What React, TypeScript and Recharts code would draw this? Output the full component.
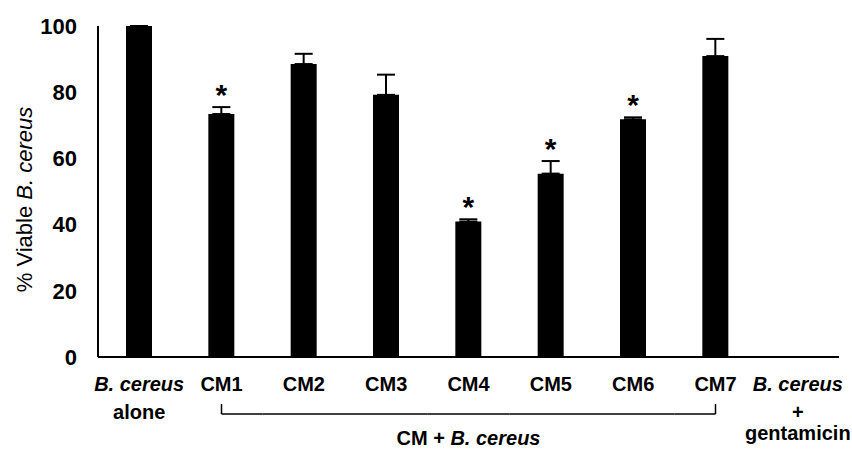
import { BarChart, Bar, XAxis, YAxis, ErrorBar, LabelList } from 'recharts'

// chart values
const categories = [
  'B. cereus alone',
  'CM1',
  'CM2',
  'CM3',
  'CM4',
  'CM5',
  'CM6',
  'CM7',
  'B. cereus + gentamicin',
]
const viability = [100, 73.4, 88.5, 79.2, 40.9, 55.4, 71.8, 90.9, 0]
const errorUp = [0, 2.1, 3.1, 6.1, 0.7, 3.8, 0.6, 5.2, 0]
const significant = [false, true, false, false, true, true, true, false, false]
const yTicks = [0, 20, 40, 60, 80, 100]

// tick label lines: [text, italic]
const tickLines: [string, boolean][][] = [
  [['B. cereus', true], ['alone', false]],
  [['CM1', false]],
  [['CM2', false]],
  [['CM3', false]],
  [['CM4', false]],
  [['CM5', false]],
  [['CM6', false]],
  [['CM7', false]],
  [['B. cereus', true], ['+', false], ['gentamicin', false]],
]
const groupLabel = 'CM + '
const groupLabelItalic = 'B. cereus'
const groupStart = 1
const groupEnd = 7
const groupCenter = 4

const data = categories.map((name, i) => ({
  name,
  value: viability[i],
  err: [0, errorUp[i]],
  errTop: errorUp[i],
  sig: significant[i],
}))

const FONT = '"Liberation Sans", Arial, sans-serif'
const LINE_Y = [26, 54, 75]

function XTick(props: any) {
  const { x, y, payload, index } = props
  const half = payload?.offset ?? 41.2
  const i = index ?? categories.indexOf(payload.value)
  const lines = tickLines[i] || [[String(payload.value), false]]
  return (
    <g>
      {lines.map(([t, it], k) => (
        <text
          key={k}
          x={x}
          y={y + LINE_Y[k]}
          textAnchor="middle"
          fontFamily={FONT}
          fontSize={20}
          fontWeight="bold"
          fontStyle={it ? 'italic' : 'normal'}
          fill="#000"
        >
          {t}
        </text>
      ))}
      {i >= groupStart && i <= groupEnd && (
        <line
          x1={i === groupStart ? x : x - half}
          x2={i === groupEnd ? x : x + half}
          y1={y + 49}
          y2={y + 49}
          stroke="#000"
          strokeWidth={1.5}
        />
      )}
      {(i === groupStart || i === groupEnd) && (
        <line x1={x} x2={x} y1={y + 39} y2={y + 49} stroke="#000" strokeWidth={1.5} />
      )}
      {i === groupCenter && (
        <text
          x={x}
          y={y + 80}
          textAnchor="middle"
          fontFamily={FONT}
          fontSize={20}
          fontWeight="bold"
          fill="#000"
        >
          {groupLabel}
          <tspan fontStyle="italic">{groupLabelItalic}</tspan>
        </text>
      )}
    </g>
  )
}

function Star(props: any) {
  const { x, y, width, height, value, index } = props
  const d = data[index]
  if (!d || !d.sig) return null
  const perUnit = value ? height / value : 0
  const top = y - d.errTop * perUnit
  return (
    <text
      x={x + width / 2}
      y={top - 2}
      textAnchor="middle"
      fontFamily={FONT}
      fontSize={30}
      fontWeight="bold"
      fill="#000"
    >
      *
    </text>
  )
}

function YLabel(props: any) {
  const vb = props.viewBox || { x: 38, y: 26, width: 60, height: 331 }
  const cx = 24
  const cy = vb.y + vb.height / 2 + 8
  return (
    <text
      x={cx}
      y={cy}
      transform={`rotate(-90, ${cx}, ${cy})`}
      textAnchor="middle"
      dominantBaseline="central"
      fontFamily={FONT}
      fontSize={22}
      fill="#000"
    >
      % Viable <tspan fontStyle="italic">B. cereus</tspan>
    </text>
  )
}

export default function App() {
  return (
    <div style={{ position: 'absolute', left: 0, top: 0, background: '#fff' }}>
      <BarChart
        width={852}
        height={450}
        data={data}
        margin={{ top: 26, right: 13, bottom: 13, left: 38 }}
      >
        <XAxis
          dataKey="name"
          height={80}
          interval={0}
          tickLine={false}
          axisLine={{ stroke: '#000', strokeWidth: 2 }}
          tick={<XTick />}
        />
        <YAxis
          width={60}
          domain={[0, 100]}
          ticks={yTicks}
          tickLine={false}
          tickSize={6}
          tickMargin={15}
          axisLine={{ stroke: '#000', strokeWidth: 2 }}
          tick={{ fill: '#000', fontFamily: FONT, fontSize: 22, fontWeight: 'bold' }}
          label={<YLabel />}
        />
        <Bar dataKey="value" fill="#000" barSize={26} isAnimationActive={false}>
          <ErrorBar
            dataKey="err"
            width={9}
            stroke="#000"
            strokeWidth={2}
            direction="y"
          />
          <LabelList dataKey="value" content={<Star />} />
        </Bar>
      </BarChart>
    </div>
  )
}
